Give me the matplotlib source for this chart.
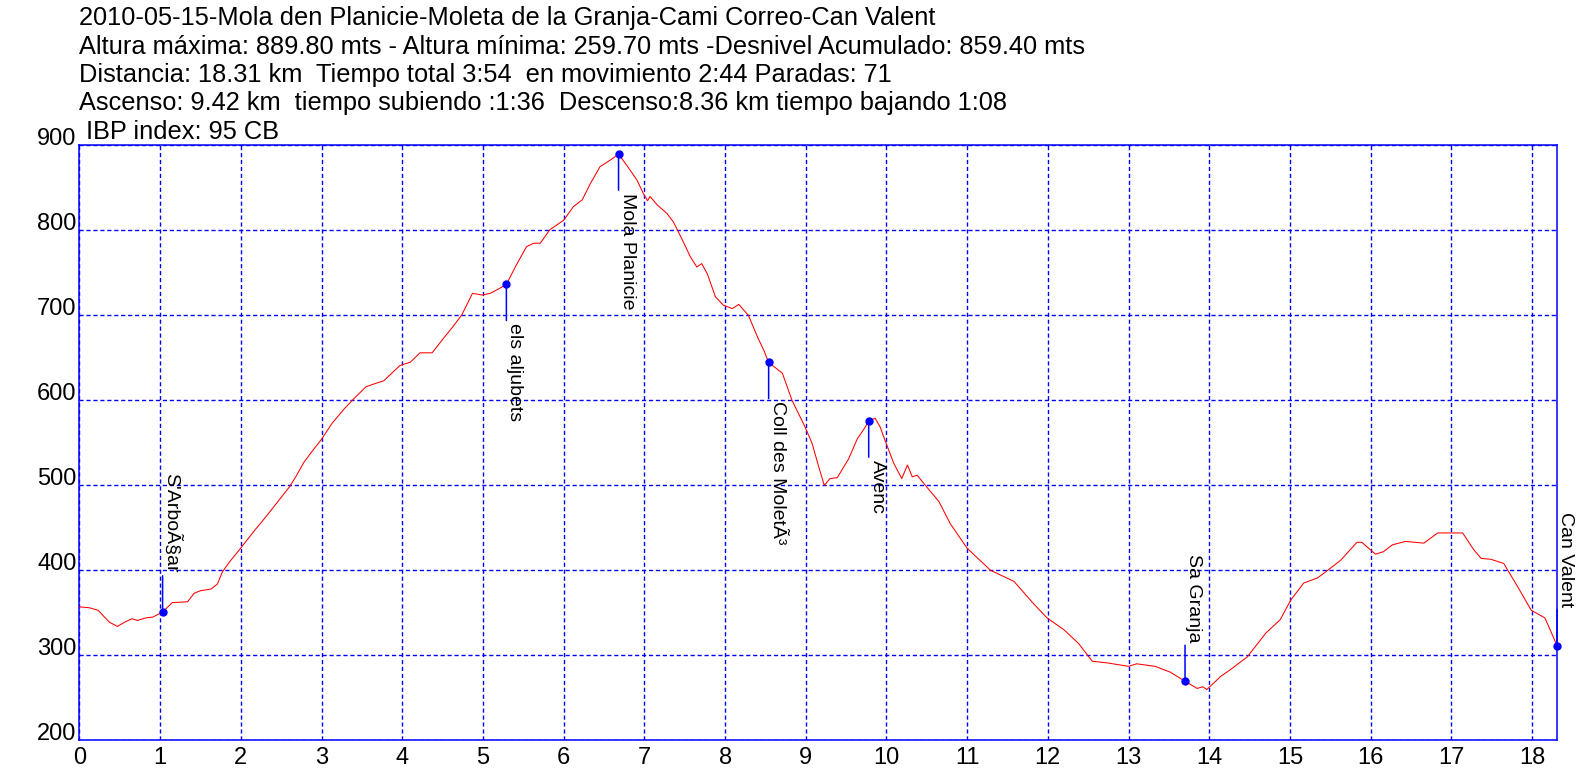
import matplotlib
matplotlib.use("Agg")
import matplotlib.pyplot as plt

plt.rcParams['font.family'] = ['Liberation Sans', 'DejaVu Sans']

# elevation profile (km, m)
dist_km = [0.00, 0.12, 0.23, 0.29, 0.37, 0.47, 0.56, 0.65, 0.72, 0.82,
           0.91, 1.03, 1.15, 1.34, 1.42, 1.50, 1.63, 1.71, 1.77, 1.86,
           1.98, 2.17, 2.31, 2.41, 2.60, 2.68, 2.78, 2.89, 2.99, 3.13,
           3.28, 3.40, 3.55, 3.67, 3.77, 3.97, 4.10, 4.22, 4.37, 4.51,
           4.63, 4.74, 4.87, 4.99, 5.09, 5.19, 5.29, 5.40, 5.54, 5.63,
           5.71, 5.83, 6.00, 6.12, 6.23, 6.33, 6.45, 6.58, 6.68, 6.78,
           6.91, 6.99, 7.04, 7.07, 7.16, 7.28, 7.36, 7.47, 7.57, 7.65,
           7.71, 7.78, 7.88, 7.98, 8.09, 8.17, 8.29, 8.40, 8.48, 8.54,
           8.71, 8.83, 8.99, 9.08, 9.16, 9.23, 9.30, 9.39, 9.53, 9.64,
           9.72, 9.78, 9.86, 9.92, 9.99, 10.09, 10.19, 10.26, 10.32, 10.38,
           10.50, 10.65, 10.79, 11.00, 11.29, 11.58, 11.82, 11.99, 12.20, 12.38,
           12.55, 12.74, 13.00, 13.10, 13.33, 13.52, 13.70, 13.85, 13.92, 13.97,
           14.14, 14.26, 14.47, 14.70, 14.88, 15.01, 15.17, 15.34, 15.44, 15.63,
           15.83, 15.89, 16.06, 16.16, 16.27, 16.43, 16.66, 16.83, 16.97, 17.14,
           17.28, 17.37, 17.49, 17.65, 17.82, 17.99, 18.16, 18.31]
elev_m = [357, 356, 353, 347, 339, 334, 339, 343, 341, 344,
          345, 351, 362, 363, 373, 376, 378, 384, 398, 410,
          424, 447, 463, 475, 498, 510, 527, 541, 553, 573,
          590, 602, 616, 620, 623, 641, 645, 656, 656, 673,
          687, 701, 726, 724, 726, 731, 736.5, 757, 781, 785,
          785, 801, 812, 828, 836, 855, 875, 883, 889.8, 877,
          859, 843, 835, 840, 830, 820, 810, 789, 769, 757,
          761, 749, 722, 712, 708, 713, 700, 675, 659, 644.7,
          632, 600, 569, 549, 522, 500, 508, 509, 531, 555,
          566, 575.6, 579, 569, 551, 526, 508, 524, 510, 512,
          498, 481, 455, 426, 400, 387, 361, 344, 330, 314,
          293, 291, 287, 290, 287, 280, 269.4, 261, 263, 259.7,
          275, 283, 298, 326, 342, 365, 385, 391, 398, 412,
          433, 433, 419, 422, 430, 434, 432, 444, 444, 444,
          424, 414, 413, 408, 381, 353, 344, 311.3]

# waypoints (names kept as the GPS export wrote them)
wpt_names = ["S'ArboÃ§ar", "els aljubets", "Mola Planicie", "Coll des MoletÃ³",
             "Avenc", "Sa Granja", "Can Valent"]
wpt_dist = [1.03, 5.29, 6.68, 8.54, 9.78, 13.70, 18.31]
wpt_elev = [351, 736.5, 889.8, 644.7, 575.6, 269.4, 311.3]

header = [
    "2010-05-15-Mola den Planicie-Moleta de la Granja-Cami Correo-Can Valent",
    "Altura máxima: 889.80 mts - Altura mínima: 259.70 mts -Desnivel Acumulado: 859.40 mts",
    "Distancia: 18.31 km  Tiempo total 3:54  en movimiento 2:44 Paradas: 71",
    "Ascenso: 9.42 km  tiempo subiendo :1:36  Descenso:8.36 km tiempo bajando 1:08",
    " IBP index: 95 CB",
]

x_ticks = list(range(0, 19))
y_ticks = [200, 300, 400, 500, 600, 700, 800, 900]


def main():
    fig = plt.figure(figsize=(15.96, 7.78), dpi=100)
    ax = fig.add_axes([0.0498, 0.0485, 0.9258, 0.7645])

    ax.plot(dist_km, elev_m, color='red', lw=0.75, zorder=3)

    for name, d, e in zip(wpt_names, wpt_dist, wpt_elev):
        above = e < 450
        ax.annotate(name, xy=(d, e), xytext=(0, 28 if above else -28),
                    textcoords='offset points', rotation=-90,
                    ha='left', va='bottom' if above else 'top',
                    fontsize=14, annotation_clip=False, zorder=5,
                    arrowprops=dict(arrowstyle='-', color='blue', lw=1.1,
                                    shrinkA=0, shrinkB=0,
                                    relpos=(0, 0) if above else (0, 1)))
        ax.plot(d, e, 'o', color='blue', ms=5, zorder=6, clip_on=False)

    ax.set_xlim(0, 18.31)
    ax.set_ylim(200, 900)
    ax.set_xticks(x_ticks)
    ax.set_yticks(y_ticks)
    ax.tick_params(length=0, labelsize=17)
    ax.tick_params(axis='x', pad=5)
    ax.tick_params(axis='y', pad=2)
    for lab in ax.get_yticklabels():
        lab.set_verticalalignment('baseline')

    ax.grid(True, color='blue', ls=(0, (3, 2)), lw=1.0)
    for sp in ax.spines.values():
        sp.set_color('blue')
        sp.set_linewidth(1.1)

    y0 = 1 - 25.5 / 778
    for i, line in enumerate(header):
        fig.text(79 / 1596, y0 - i * 28.3 / 778, line, fontsize=18.3,
                 ha='left', va='baseline')

    fig.savefig("out.png", dpi=100)


if __name__ == "__main__":
    main()
